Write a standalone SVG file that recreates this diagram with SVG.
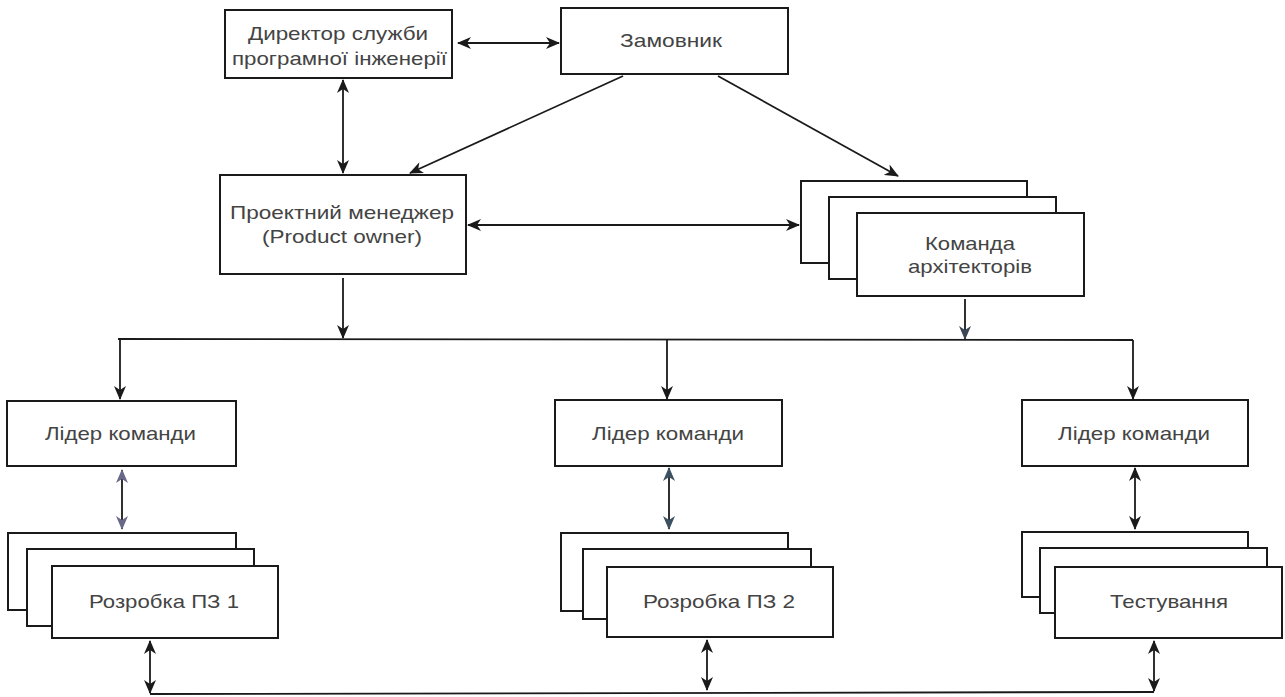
<svg xmlns="http://www.w3.org/2000/svg" width="1285" height="697" viewBox="0 0 1285 697">
<style>
.box{fill:#fff;stroke:#1a1a1a;stroke-width:2}
.t{font-family:"Liberation Sans",Arial,sans-serif;font-size:19px;fill:#444;text-anchor:middle}
.c{fill:none;stroke:#1a1a1a;stroke-width:1.8}
</style>
<defs>
<marker id="a" viewBox="0 0 14 12" refX="13" refY="6" markerWidth="14" markerHeight="12" markerUnits="userSpaceOnUse" orient="auto-start-reverse"><path d="M0,0 L14,6 L0,12 L4,6 z" fill="#1a1a1a"/></marker>
<marker id="ap" viewBox="0 0 14 12" refX="13" refY="6" markerWidth="14" markerHeight="12" markerUnits="userSpaceOnUse" orient="auto-start-reverse"><path d="M0,0 L14,6 L0,12 L4,6 z" fill="#6a6888"/></marker>
<marker id="at" viewBox="0 0 14 12" refX="13" refY="6" markerWidth="14" markerHeight="12" markerUnits="userSpaceOnUse" orient="auto-start-reverse"><path d="M0,0 L14,6 L0,12 L4,6 z" fill="#3b5060"/></marker>
<marker id="as" viewBox="0 0 14 12" refX="13" refY="6" markerWidth="14" markerHeight="12" markerUnits="userSpaceOnUse" orient="auto-start-reverse"><path d="M0,0 L14,6 L0,12 L4,6 z" fill="#3a4654"/></marker>
</defs>
<rect width="1285" height="697" fill="#fff"/>
<g id="connectors">
<line class="c" x1="458" y1="43" x2="559" y2="43" marker-start="url(#a)" marker-end="url(#a)"/>
<line class="c" x1="343" y1="80" x2="343" y2="173" marker-start="url(#a)" marker-end="url(#a)"/>
<line class="c" x1="623" y1="76" x2="410" y2="173" marker-end="url(#a)"/>
<line class="c" x1="718" y1="76" x2="898" y2="176" marker-end="url(#a)"/>
<line class="c" x1="468" y1="225" x2="799" y2="225" marker-start="url(#a)" marker-end="url(#a)"/>
<line class="c" x1="343" y1="278" x2="343" y2="338" marker-end="url(#a)"/>
<line class="c" x1="965" y1="299" x2="965" y2="339" stroke="#3a4654" marker-end="url(#as)"/>
<polyline class="c" points="118,339 1133,340"/>
<line class="c" x1="120" y1="339" x2="120" y2="399" marker-end="url(#a)"/>
<line class="c" x1="667" y1="339" x2="667" y2="399" marker-end="url(#a)"/>
<line class="c" x1="1133" y1="340" x2="1133" y2="399" marker-end="url(#a)"/>
<line class="c" x1="122" y1="470" x2="122" y2="529" stroke="#6a6888" marker-start="url(#ap)" marker-end="url(#ap)"/>
<line class="c" x1="669" y1="468" x2="669" y2="529" stroke="#3b5060" marker-start="url(#at)" marker-end="url(#at)"/>
<line class="c" x1="1135" y1="468" x2="1135" y2="529" marker-start="url(#a)" marker-end="url(#a)"/>
<line class="c" x1="150" y1="641" x2="150" y2="693" marker-start="url(#a)" marker-end="url(#a)"/>
<line class="c" x1="707" y1="640" x2="707" y2="690" marker-start="url(#a)" marker-end="url(#a)"/>
<line class="c" x1="1154" y1="641" x2="1154" y2="691" marker-start="url(#a)" marker-end="url(#a)"/>
<polyline class="c" points="150,694 1154,692"/>
</g>
<g id="director">
<rect class="box" x="225" y="10" width="227" height="68"/>
<text class="t" x="338" y="40" textLength="180" lengthAdjust="spacingAndGlyphs">Директор служби</text>
<text class="t" x="339.5" y="65" textLength="215" lengthAdjust="spacingAndGlyphs">програмної інженерії</text>
</g>
<g id="customer">
<rect class="box" x="561" y="8" width="227" height="66"/>
<text class="t" x="671" y="47" textLength="102" lengthAdjust="spacingAndGlyphs">Замовник</text>
</g>
<g id="pm">
<rect class="box" x="220" y="175" width="246" height="99"/>
<text class="t" x="342" y="219" textLength="224" lengthAdjust="spacingAndGlyphs">Проектний менеджер</text>
<text class="t" x="342" y="243" textLength="160" lengthAdjust="spacingAndGlyphs">(Product owner)</text>
</g>
<g id="architects">
<rect class="box" x="801" y="181" width="226" height="82"/>
<rect class="box" x="829" y="197" width="227" height="82"/>
<rect class="box" x="857" y="213" width="227" height="83"/>
<text class="t" x="970" y="250" textLength="90" lengthAdjust="spacingAndGlyphs">Команда</text>
<text class="t" x="970" y="273" textLength="124" lengthAdjust="spacingAndGlyphs">архітекторів</text>
</g>
<g id="lead1">
<rect class="box" x="7" y="401" width="229" height="65"/>
<text class="t" x="120.5" y="440" textLength="151" lengthAdjust="spacingAndGlyphs">Лідер команди</text>
</g>
<g id="lead2">
<rect class="box" x="555" y="400" width="227" height="66"/>
<text class="t" x="668" y="440" textLength="152" lengthAdjust="spacingAndGlyphs">Лідер команди</text>
</g>
<g id="lead3">
<rect class="box" x="1022" y="400" width="226" height="66"/>
<text class="t" x="1134" y="440" textLength="152" lengthAdjust="spacingAndGlyphs">Лідер команди</text>
</g>
<g id="dev1">
<rect class="box" x="8" y="533" width="228" height="77"/>
<rect class="box" x="27" y="549" width="227" height="77"/>
<rect class="box" x="52" y="566" width="226" height="72"/>
<text class="t" x="164" y="608" textLength="150" lengthAdjust="spacingAndGlyphs">Розробка ПЗ 1</text>
</g>
<g id="dev2">
<rect class="box" x="561" y="533" width="227" height="78"/>
<rect class="box" x="583" y="549" width="228" height="70"/>
<rect class="box" x="607" y="567" width="226" height="70"/>
<text class="t" x="719" y="608" textLength="152" lengthAdjust="spacingAndGlyphs">Розробка ПЗ 2</text>
</g>
<g id="testing">
<rect class="box" x="1022" y="532" width="226" height="65"/>
<rect class="box" x="1040" y="548" width="227" height="65"/>
<rect class="box" x="1055" y="567" width="227" height="71"/>
<text class="t" x="1169" y="608" textLength="118" lengthAdjust="spacingAndGlyphs">Тестування</text>
</g>
</svg>
